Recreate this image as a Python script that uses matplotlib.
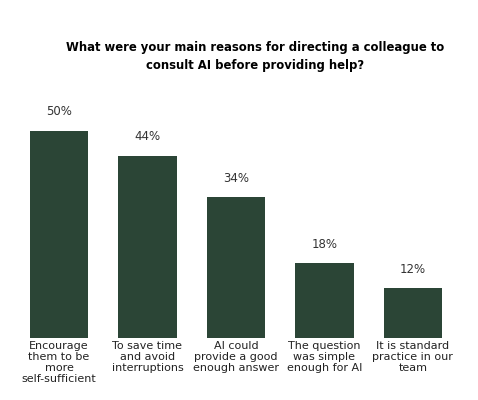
import matplotlib.pyplot as plt

categories = ["Encourage\nthem to be\nmore\nself-sufficient", "To save time\nand avoid\ninterruptions",
              "AI could\nprovide a good\nenough answer", "The question\nwas simple\nenough for AI",
              "It is standard\npractice in our\nteam"]
values = [50, 44, 34, 18, 12]

fig = plt.figure(figsize=(4.78, 4.0), dpi=100)
ax = fig.add_axes([0.031, 0.155, 0.925, 0.58])
x = range(len(values))
ax.bar(x, values, width=0.66, color="#2b4536")
for i, v in zip(x, values):
    ax.text(i, v + 3, f"{v}%", ha="center", va="bottom", fontsize=8.5, color="#333333")
ax.set_xlim(-0.5, 4.5)
ax.set_ylim(0, 56)
ax.set_yticks([])
ax.set_xticks(list(x))
ax.set_xticklabels(categories, fontsize=8, color="#222222", linespacing=1.15, va="top")
ax.tick_params(axis="x", length=0, pad=2)
for s in ax.spines.values():
    s.set_visible(False)
fig.text(0.533, 0.86, "What were your main reasons for directing a colleague to\nconsult AI before providing help?",
         ha="center", va="center", fontsize=8.4, fontweight="bold", linespacing=1.5)
fig.savefig("out.png", dpi=100)
